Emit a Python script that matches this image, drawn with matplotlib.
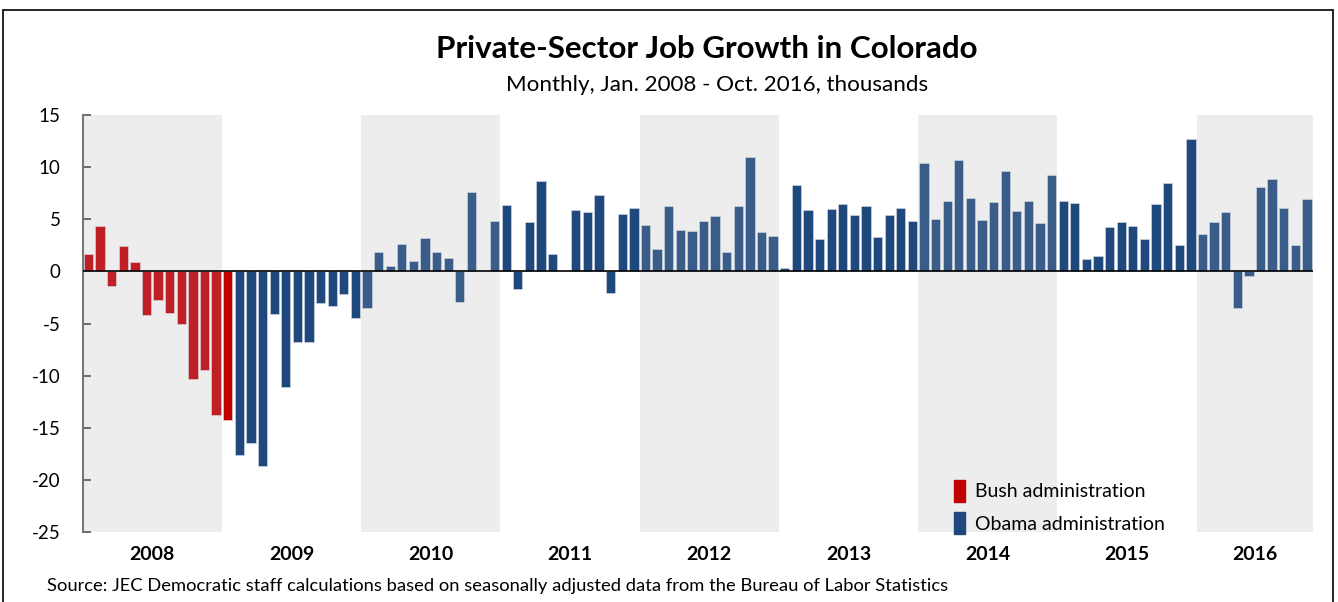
import matplotlib
matplotlib.use('Agg')
import matplotlib.pyplot as plt
from matplotlib.patches import Rectangle, Patch

plt.rcParams['font.family'] = ['Lato', 'DejaVu Sans']
plt.rcParams['axes.unicode_minus'] = False

years = ['2008', '2009', '2010', '2011', '2012', '2013', '2014', '2015', '2016']

# monthly change, thousands
y2008 = [1.7, 4.4, -1.4, 2.4, 0.9, -4.2, -2.7, -4.0, -5.0, -10.3, -9.4, -13.8]
y2009 = [-14.2, -17.6, -16.4, -18.6, -4.1, -11.1, -6.8, -6.8, -3.0, -3.3, -2.2, -4.5]
y2010 = [-3.5, 1.9, 0.5, 2.6, 1.0, 3.2, 1.9, 1.3, -2.9, 7.6, 0.0, 4.8]
y2011 = [6.4, -1.7, 4.7, 8.7, 1.7, 0.0, 5.9, 5.7, 7.3, -2.1, 5.5, 6.1]
y2012 = [4.5, 2.2, 6.3, 4.0, 3.9, 4.8, 5.3, 1.9, 6.3, 11.0, 3.8, 3.4]
y2013 = [0.3, 8.3, 5.9, 3.1, 6.0, 6.5, 5.4, 6.3, 3.3, 5.4, 6.1, 4.8]
y2014 = [10.4, 5.0, 6.8, 10.7, 7.0, 4.9, 6.7, 9.6, 5.8, 6.8, 4.6, 9.2]
y2015 = [6.8, 6.6, 1.2, 1.5, 4.3, 4.7, 4.4, 3.1, 6.5, 8.5, 2.5, 12.7]
y2016 = [3.6, 4.7, 5.7, -3.5, -0.4, 8.1, 8.9, 6.1, 2.5, 6.9]

bush_months = 13  # Jan 2008 - Jan 2009

values = y2008 + y2009 + y2010 + y2011 + y2012 + y2013 + y2014 + y2015 + y2016
n = len(values)
x = list(range(n))

colors = []
for i in x:
    shaded = (i // 12) % 2 == 0
    if i < bush_months:
        colors.append('#BE2026' if shaded else '#C00000')
    else:
        colors.append('#3A5C88' if shaded else '#1F497D')

fig = plt.figure(figsize=(13.38, 6.02), dpi=100)
ax = fig.add_axes([0.0618, 0.1158, 0.9193, 0.6932])

# alternate year shading
for k in range(0, len(years), 2):
    ax.axvspan(12 * k - 0.5, min(12 * k + 11.5, n - 0.5), color='#EDEDED', lw=0, zorder=0)

ax.bar(x, values, width=0.8, color=colors, edgecolor='#D8DEE8', linewidth=0.4, zorder=2)
ax.axhline(0, color='black', lw=1.2, zorder=3)

ax.set_xlim(-0.5, n - 0.5)
ax.set_ylim(-25, 15)
ax.set_yticks(range(-25, 16, 5))
ax.tick_params(axis='y', direction='in', length=6, width=1.2, color='#555555',
               labelsize=13.5, pad=16)
for lab in ax.get_yticklabels():
    lab.set_horizontalalignment('right')

centers = []
for k, yr in enumerate(years):
    start = 12 * k
    end = min(12 * k + 11, n - 1)
    centers.append((start + end) / 2)
ax.set_xticks(centers)
ax.set_xticklabels(years, fontsize=14, fontweight='bold')
ax.tick_params(axis='x', length=0, pad=10)

for s in ['top', 'right', 'bottom']:
    ax.spines[s].set_visible(False)
ax.spines['left'].set_color('#777777')
ax.spines['left'].set_linewidth(1.5)

handles = [Patch(color='#C00000', label='Bush administration'),
           Patch(color='#1F497D', label='Obama administration')]
ax.legend(handles=handles, loc='lower left', bbox_to_anchor=(0.694, -0.047), frameon=False,
          fontsize=14, handlelength=0.6, handleheight=1.4, handletextpad=0.5, labelspacing=0.5)

fig.text(0.528, 0.918, 'Private-Sector Job Growth in Colorado', ha='center', va='center',
         fontsize=22.6, fontweight='bold')
fig.text(0.536, 0.859, 'Monthly, Jan. 2008 - Oct. 2016, thousands', ha='center', va='center',
         fontsize=16.1)
fig.text(0.035, 0.026, 'Source: JEC Democratic staff calculations based on seasonally adjusted data from the Bureau of Labor Statistics',
         ha='left', va='center', fontsize=13.2)

fig.patches.append(Rectangle((3 / 1338, -0.02), 1330 / 1338, 1.0 - 10 / 602 + 0.02,
                             transform=fig.transFigure, fill=False, edgecolor='black', lw=1.2))

fig.savefig('out.png', dpi=100)
